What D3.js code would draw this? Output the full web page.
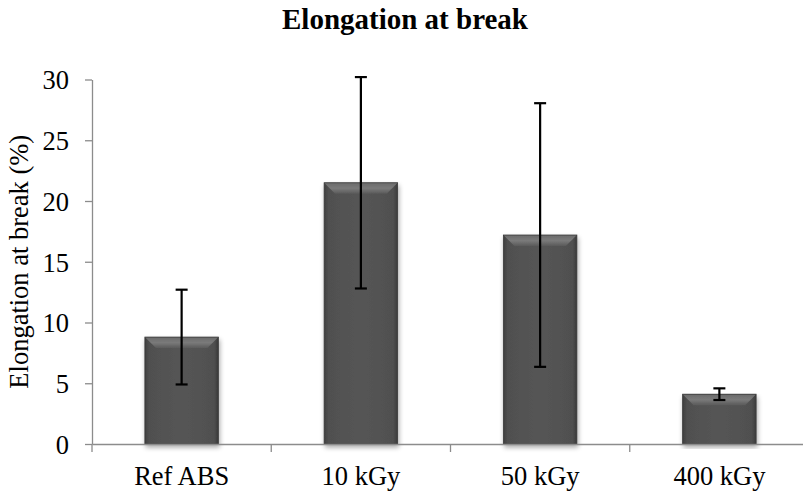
<!DOCTYPE html>
<html>
<head>
<meta charset="utf-8">
<script src="https://cdn.jsdelivr.net/npm/d3@7"></script>
<style>
  html, body { margin: 0; padding: 0; background: #fff; }
  svg { display: block; }
  text { font-family: "Liberation Serif", "Times New Roman", serif; fill: #000; }
</style>
</head>
<body>
<svg id="chart" width="803" height="495"></svg>
<script>
const categories = ["Ref ABS", "10 kGy", "50 kGy", "400 kGy"];
const values = [8.8, 21.5, 17.2, 4.1];
const errors = [3.9, 8.7, 10.85, 0.48];
const yTicks = [0, 5, 10, 15, 20, 25, 30];

(function () {
const svg = d3.select("#chart");
const pLeft = 92, pRight = 809, pTop = 79.5, pBottom = 444;
const serif = "'Liberation Serif', 'Times New Roman', serif";

const x = d3.scaleBand().domain(categories).range([pLeft, pRight]).padding(0);
const y = d3.scaleLinear().domain([0, 30]).range([pBottom, pTop]);
const barW = x.bandwidth() * 0.41;

const defs = svg.append("defs");
const hg = defs.append("linearGradient").attr("id", "hgrad").attr("x1", 0).attr("x2", 1).attr("y1", 0).attr("y2", 0);
hg.append("stop").attr("offset", 0).attr("stop-color", "#3e3e3e");
hg.append("stop").attr("offset", 0.06).attr("stop-color", "#505050");
hg.append("stop").attr("offset", 0.5).attr("stop-color", "#555555");
hg.append("stop").attr("offset", 0.94).attr("stop-color", "#505050");
hg.append("stop").attr("offset", 1).attr("stop-color", "#3a3a3a");
const tg = defs.append("linearGradient").attr("id", "tgrad").attr("x1", 0).attr("x2", 0).attr("y1", 0).attr("y2", 1);
tg.append("stop").attr("offset", 0).attr("stop-color", "#6a6a6a");
tg.append("stop").attr("offset", 0.5).attr("stop-color", "#7a7a7a");
tg.append("stop").attr("offset", 1).attr("stop-color", "#5a5a5a");
const sh = defs.append("filter").attr("id", "shadow").attr("x", "-20%").attr("y", "-5%").attr("width", "140%").attr("height", "115%");
sh.append("feGaussianBlur").attr("in", "SourceAlpha").attr("stdDeviation", 2.5).attr("result", "b");
sh.append("feOffset").attr("in", "b").attr("dx", 1).attr("dy", 3).attr("result", "o");
sh.append("feComponentTransfer").attr("in", "o").attr("result", "o2")
  .append("feFuncA").attr("type", "linear").attr("slope", 0.35);
const m = sh.append("feMerge");
m.append("feMergeNode").attr("in", "o2");
m.append("feMergeNode").attr("in", "SourceGraphic");

// Title
svg.append("text").attr("x", 405).attr("y", 29).attr("text-anchor", "middle")
  .style("font-size", "29px").style("font-weight", "bold").style("font-family", serif)
  .text("Elongation at break");

// Y axis
const yAxis = svg.append("g").attr("transform", `translate(${pLeft},0)`)
  .call(d3.axisLeft(y).tickValues(yTicks).tickSize(7).tickPadding(16).tickSizeOuter(0));
yAxis.select(".domain").attr("stroke", "#8c8c8c").attr("stroke-width", 1.3);
yAxis.selectAll(".tick line").attr("stroke", "#8c8c8c").attr("stroke-width", 1.3);
yAxis.selectAll(".tick text").style("font-size", "26.5px").attr("dy", "0.35em")
  .style("font-family", serif);

// Y label
svg.append("text").attr("transform", `translate(28,${(pTop + pBottom) / 2}) rotate(-90)`)
  .attr("text-anchor", "middle").style("font-size", "26.5px").style("font-family", serif)
  .text("Elongation at break (%)");

// Bars
const g = svg.append("g");
categories.forEach((c, i) => {
  const cx = x(c) + x.bandwidth() / 2;
  const x0 = cx - barW / 2, x1 = cx + barW / 2;
  const y0 = y(values[i]), y1 = y(0);
  const bg = g.append("g").attr("filter", "url(#shadow)");
  bg.append("rect").attr("x", x0).attr("y", y0).attr("width", barW).attr("height", y1 - y0)
    .attr("fill", "url(#hgrad)");
  const bev = Math.min(11, (y1 - y0) / 2);
  bg.append("polygon")
    .attr("points", [[x0, y0], [x1, y0], [x1 - bev, y0 + bev], [x0 + bev, y0 + bev]].map(p => p.join(",")).join(" "))
    .attr("fill", "url(#tgrad)");
  bg.append("rect").attr("x", x0).attr("y", y0).attr("width", barW).attr("height", y1 - y0)
    .attr("fill", "none").attr("stroke", "#3a3a3a").attr("stroke-width", 0.8);
});

// X axis
const xAxis = svg.append("g").attr("transform", `translate(0,${pBottom})`)
  .call(d3.axisBottom(x).tickSize(0).tickSizeOuter(0));
xAxis.select(".domain").attr("stroke", "#8c8c8c").attr("stroke-width", 1.3);
xAxis.selectAll(".tick text").style("font-size", "26.5px").attr("y", 41).attr("dy", 0)
  .style("font-family", serif);
// Category boundary ticks
const bounds = categories.map(c => x(c)).concat([pRight]);
svg.append("g").selectAll("line").data(bounds).join("line")
  .attr("x1", d => d).attr("x2", d => d).attr("y1", pBottom).attr("y2", pBottom + 8)
  .attr("stroke", "#8c8c8c").attr("stroke-width", 1.3);

// Error bars
const eg = svg.append("g").attr("stroke", "#000").attr("stroke-width", 2.2);
categories.forEach((c, i) => {
  const cx = x(c) + x.bandwidth() / 2;
  const hi = y(values[i] + errors[i]), lo = y(values[i] - errors[i]);
  eg.append("line").attr("x1", cx).attr("x2", cx).attr("y1", hi).attr("y2", lo);
  eg.append("line").attr("x1", cx - 6).attr("x2", cx + 6).attr("y1", hi).attr("y2", hi);
  eg.append("line").attr("x1", cx - 6).attr("x2", cx + 6).attr("y1", lo).attr("y2", lo);
});
})();
</script>
</body>
</html>
